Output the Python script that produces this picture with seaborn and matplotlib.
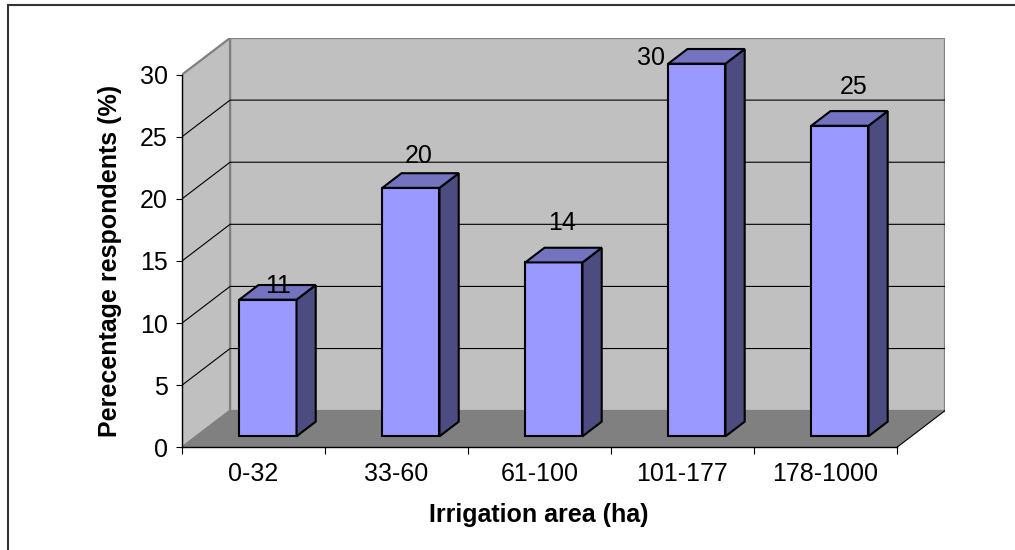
import numpy as np
import pandas as pd
import matplotlib
matplotlib.use("Agg")
import matplotlib.pyplot as plt
import seaborn as sns
from matplotlib.patches import Polygon, Rectangle
from matplotlib.transforms import Affine2D

# ---- data ---------------------------------------------------------------
categories = ["0-32", "33-60", "61-100", "101-177", "178-1000"]
percentages = [11, 20, 14, 30, 25]
y_ticks = [0, 5, 10, 15, 20, 25, 30]

# value-label nudges (pixels, relative to the front-top centre of each bar)
label_offsets_px = [(10, 7), (7.5, 25), (8.5, 32), (-45.5, -1.5), (13.5, 31.5)]

# ---- styling --------------------------------------------------------------
plt.rcParams["font.family"] = ["Liberation Sans", "DejaVu Sans"]
FONT_SIZE = 18

FRONT_COLOR = "#9999FF"
TOP_COLOR = "#7373BF"
SIDE_COLOR = "#4C4C80"
WALL_COLOR = "#C0C0C0"
FLOOR_COLOR = "#808080"

DEPTH_X, DEPTH_Y = 0.336, 2.95     # receding depth of the box, data units
BAR_FRONT, BAR_BACK = 0.3, 0.7     # where the columns sit along the depth
BAR_W = 0.4
YMAX = 30

fig = plt.figure(figsize=(10.15, 5.5), dpi=100)
ax = fig.add_axes([182 / 1015, (550 - 447.3) / 550, 763 / 1015, 409.3 / 550])

df = pd.DataFrame({"area": categories, "pct": percentages})
sns.barplot(data=df, x="area", y="pct", width=BAR_W, color=FRONT_COLOR,
            saturation=1, edgecolor="black", linewidth=1.5, errorbar=None,
            ax=ax, zorder=3)

n = len(categories)
x0, x1 = -0.5, n - 0.5
ax.set_xlim(x0, x1 + DEPTH_X)
ax.set_ylim(0, YMAX + DEPTH_Y)

# ---- the box: back wall, side wall, floor -------------------------------------
ax.add_patch(Rectangle((x0 + DEPTH_X, DEPTH_Y), n, YMAX, fc=WALL_COLOR,
                       ec=FLOOR_COLOR, lw=1.6, zorder=0))
ax.add_patch(Polygon([(x0, 0), (x0, YMAX), (x0 + DEPTH_X, YMAX + DEPTH_Y),
                      (x0 + DEPTH_X, DEPTH_Y)], closed=True, fc=WALL_COLOR,
                     ec=FLOOR_COLOR, lw=1.6, zorder=0))
ax.add_patch(Polygon([(x0, 0), (x1, 0), (x1 + DEPTH_X, DEPTH_Y),
                      (x0 + DEPTH_X, DEPTH_Y)], closed=True, fc=FLOOR_COLOR,
                     ec="none", zorder=1))
ax.plot([x1, x1 + DEPTH_X], [0, DEPTH_Y], color="black", lw=0.8, zorder=1.2)

for k in y_ticks[1:-1]:
    ax.plot([x0, x0 + DEPTH_X, x1 + DEPTH_X], [k, k + DEPTH_Y, k + DEPTH_Y],
            color="black", lw=0.8, zorder=0.5)

# ---- extrude the seaborn bars into columns -----------------------------------
fdx, fdy = BAR_FRONT * DEPTH_X, BAR_FRONT * DEPTH_Y
ddx, ddy = (BAR_BACK - BAR_FRONT) * DEPTH_X, (BAR_BACK - BAR_FRONT) * DEPTH_Y
shift = Affine2D().translate(fdx, fdy) + ax.transData

for patch, value, (ox, oy) in zip(ax.patches[:n], percentages, label_offsets_px):
    bx, bw, bh = patch.get_x(), patch.get_width(), patch.get_height()
    patch.set_transform(shift)
    top = Polygon([(bx, bh), (bx + bw, bh), (bx + bw + ddx, bh + ddy),
                   (bx + ddx, bh + ddy)], closed=True, fc=TOP_COLOR,
                  ec="black", lw=1.5, joinstyle="miter", transform=shift, zorder=3)
    side = Polygon([(bx + bw, 0), (bx + bw, bh), (bx + bw + ddx, bh + ddy),
                    (bx + bw + ddx, ddy)], closed=True, fc=SIDE_COLOR,
                   ec="black", lw=1.5, joinstyle="miter", transform=shift, zorder=3)
    ax.add_patch(side)
    ax.add_patch(top)
    ax.annotate(f"{value}", xy=(bx + bw / 2, bh), xycoords=shift,
                xytext=(ox, oy), textcoords="offset pixels",
                ha="center", va="baseline", fontsize=FONT_SIZE, color="black",
                zorder=5)

# ---- axes -------------------------------------------------------------------------
for side_name in ("top", "right"):
    ax.spines[side_name].set_visible(False)
ax.spines["left"].set_bounds(0, YMAX)
ax.spines["bottom"].set_bounds(x0, x1)
for side_name in ("left", "bottom"):
    ax.spines[side_name].set_color("black")
    ax.spines[side_name].set_linewidth(1.0)
    ax.spines[side_name].set_zorder(2.5)

ax.set_xticks(range(n))
ax.set_xticklabels(categories)
ax.set_xticks(np.arange(n + 1) - 0.5, minor=True)
ax.tick_params(axis="x", which="major", length=0, pad=10.8,
               labelsize=FONT_SIZE, labelcolor="black", bottom=True)
ax.tick_params(axis="x", which="minor", length=5, width=0.8, color="black",
               direction="out", bottom=True)
ax.set_yticks(y_ticks)
ax.tick_params(axis="y", length=4.3, width=0.8, color="black", direction="out",
               pad=5.8, labelsize=FONT_SIZE, labelcolor="black", left=True)

ax.set_xlabel("Irrigation area (ha)", fontsize=FONT_SIZE, fontweight="bold")
ax.xaxis.set_label_coords(0.468, -0.136)
ax.set_ylabel("Perecentage respondents (%)", fontsize=FONT_SIZE, fontweight="bold")
ax.yaxis.set_label_coords(-0.0786, 15 / (YMAX + DEPTH_Y))

# chart-area frame
fig.patches.append(Rectangle((7.5 / 1015, -0.05), 1.2, 1.0 - 5 / 550 + 0.05,
                             transform=fig.transFigure, fill=False,
                             ec="#333333", lw=1.5))

fig.savefig("out.png", dpi=100)
